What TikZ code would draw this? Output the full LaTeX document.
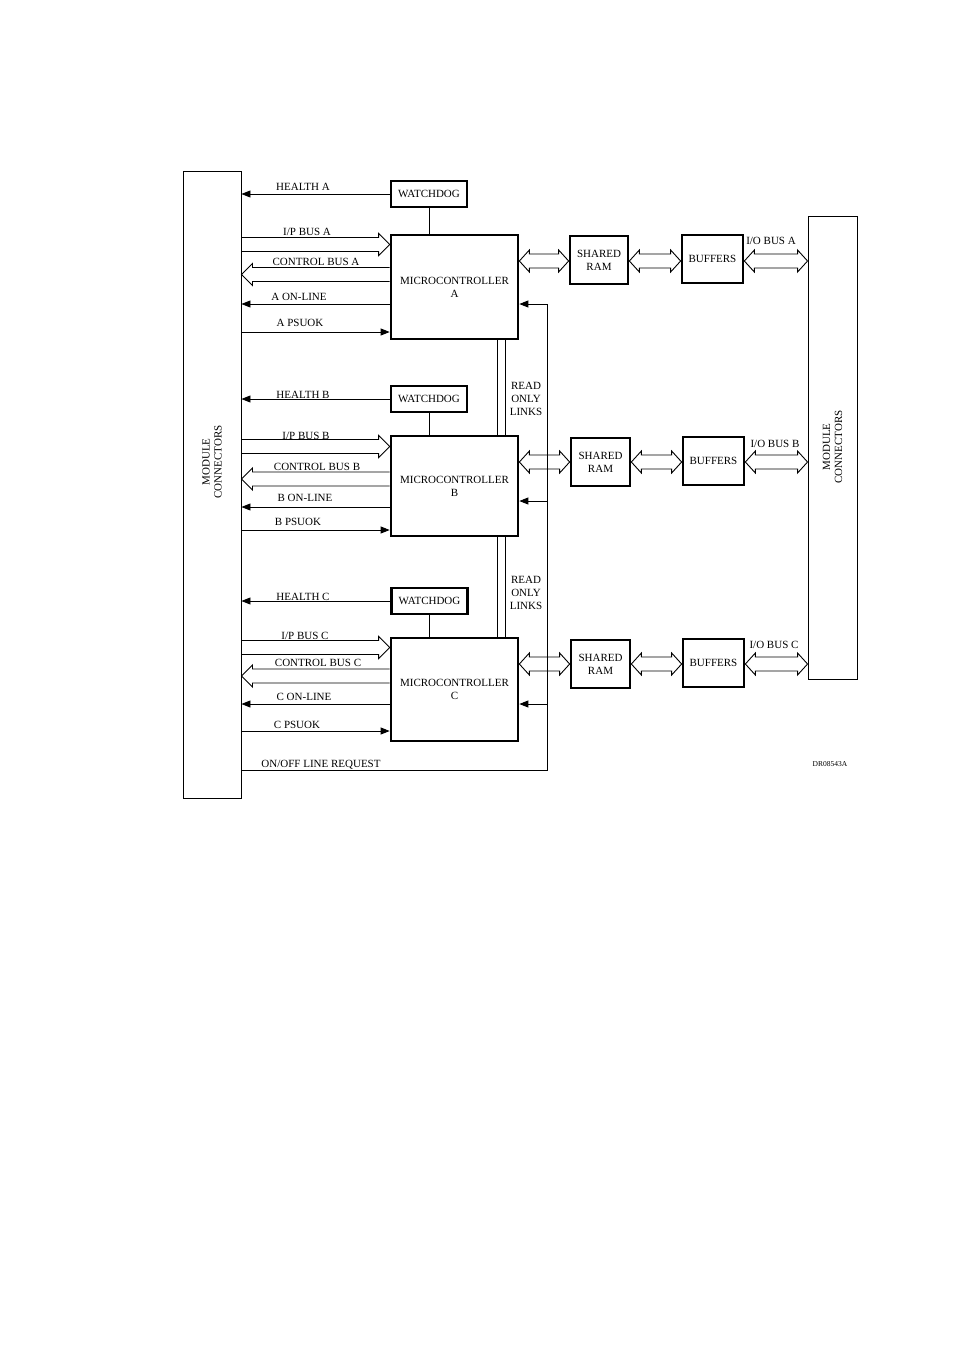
\documentclass[tikz,border=0pt]{standalone}
\usepackage{fontspec}
\setmainfont{Liberation Serif}
\usetikzlibrary{arrows.meta,calc}
\tikzset{
  blk/.style={draw, line width=2.7pt, inner sep=0pt, align=center, font=\fontsize{11}{13}\selectfont},
  modbox/.style={draw, line width=0.9pt, inner sep=0pt},
  sig/.style={line width=0.9pt},
  sigarr/.style={line width=0.9pt, -{Triangle[length=9pt,width=7pt]}},
  lbl/.style={font=\fontsize{11}{12}\selectfont, inner sep=0pt},
  hol/.style={line width=0.9pt, line join=miter},
}
% hollow arrow pointing right: from x of #1 to x of #2, centred on y of #2
\newcommand{\holR}[2]{\draw[hol] let \p1=(#1), \p2=(#2) in
  (\x1,\y2+7pt) -- (\x2-11pt,\y2+7pt) -- (\x2-11pt,\y2+11pt) -- (\x2,\y2) -- (\x2-11pt,\y2-11pt) -- (\x2-11pt,\y2-7pt) -- (\x1,\y2-7pt);}
% hollow arrow pointing left: head at #1
\newcommand{\holL}[2]{\draw[hol] let \p1=(#1), \p2=(#2) in
  (\x2,\y1+7pt) -- (\x1+11pt,\y1+7pt) -- (\x1+11pt,\y1+11pt) -- (\x1,\y1) -- (\x1+11pt,\y1-11pt) -- (\x1+11pt,\y1-7pt) -- (\x2,\y1-7pt);}
% hollow double-headed arrow between #1 and #2 (y of #1)
\newcommand{\holLR}[2]{\draw[hol] let \p1=(#1), \p2=(#2) in
  (\x1,\y1) -- (\x1+10pt,\y1+11pt) -- (\x1+10pt,\y1+7pt) -- (\x2-10pt,\y1+7pt) -- (\x2-10pt,\y1+11pt) -- (\x2,\y1)
  -- (\x2-10pt,\y1-11pt) -- (\x2-10pt,\y1-7pt) -- (\x1+10pt,\y1-7pt) -- (\x1+10pt,\y1-11pt) -- cycle;}
\begin{document}
\begin{tikzpicture}[x=1pt,y=-1pt]
\useasboundingbox (0,0) rectangle (954,1350);
\fill[white] (0,0) rectangle (954,1350);

% module connectors
\node[modbox, minimum width=58pt, minimum height=627pt] (lm) at (212,484.5) {};
\node[lbl, rotate=90, align=center] (lmt) at (212,462) {MODULE\\CONNECTORS};
\node[modbox, minimum width=49pt, minimum height=463pt] (rm) at (832.5,447.5) {};
\node[lbl, rotate=90, align=center] (rmt) at (832.5,447) {MODULE\\CONNECTORS};

% ---------- channel A ----------
\node[blk, minimum width=76pt, minimum height=26pt] (wdA) at (429,194) {WATCHDOG};
\node[blk, minimum width=127pt, minimum height=104pt] (mcA) at (454.5,287) {MICROCONTROLLER\\A};
\node[blk, minimum width=58pt, minimum height=48pt] (srA) at (599,260) {SHARED\\RAM};
\node[blk, minimum width=61pt, minimum height=48pt] (bfA) at (712.5,259) {BUFFERS};

% ---------- channel B ----------
\node[blk, minimum width=76pt, minimum height=26pt] (wdB) at (429,399) {WATCHDOG};
\node[blk, minimum width=127pt, minimum height=100pt] (mcB) at (454.5,486) {MICROCONTROLLER\\B};
\node[blk, minimum width=59pt, minimum height=48pt] (srB) at (600.5,462) {SHARED\\RAM};
\node[blk, minimum width=61pt, minimum height=48pt] (bfB) at (713.5,461) {BUFFERS};

% ---------- channel C ----------
\node[blk, minimum width=76pt, minimum height=26pt] (wdC) at (429.5,601) {WATCHDOG};
\node[blk, minimum width=127pt, minimum height=103pt] (mcC) at (454.5,689.5) {MICROCONTROLLER\\C};
\node[blk, minimum width=59pt, minimum height=48pt] (srC) at (600.5,664) {SHARED\\RAM};
\node[blk, minimum width=61pt, minimum height=48pt] (bfC) at (713.5,663) {BUFFERS};

% watchdog to micro
\draw[sig] (wdA.south) -- (wdA.south |- mcA.north);
\draw[sig] (wdB.south) -- (wdB.south |- mcB.north);
\draw[sig] (wdC.south) -- (wdC.south |- mcC.north);

% health
\draw[sigarr] (wdA.west) -- (lm.east |- wdA.west);
\draw[sigarr] (wdB.west) -- (lm.east |- wdB.west);
\draw[sigarr] (wdC.west) -- (lm.east |- wdC.west);
\node[lbl] (hA) at (303,187) {HEALTH A};
\node[lbl] (hB) at (303,395) {HEALTH B};
\node[lbl] (hC) at (303,597) {HEALTH C};

% I/P bus (hollow, to micro)
\coordinate (ipA) at (mcA.west |- 0,244.5);
\coordinate (ipB) at (mcB.west |- 0,446.5);
\coordinate (ipC) at (mcC.west |- 0,647.5);
\holR{lm.east}{ipA}
\holR{lm.east}{ipB}
\holR{lm.east}{ipC}
\node[lbl] (ipAl) at (307,232) {I/P BUS A};
\node[lbl] (ipBl) at (306,436) {I/P BUS B};
\node[lbl] (ipCl) at (305,636) {I/P BUS C};

% control bus (hollow, to connectors)
\coordinate (cbA) at (lm.east |- 0,274.5);
\coordinate (cbB) at (lm.east |- 0,479);
\coordinate (cbC) at (lm.east |- 0,676);
\holL{cbA}{mcA.west}
\holL{cbB}{mcB.west}
\holL{cbC}{mcC.west}
\node[lbl] (cbAl) at (316,262) {CONTROL BUS A};
\node[lbl] (cbBl) at (317,467) {CONTROL BUS B};
\node[lbl] (cbCl) at (318,663) {CONTROL BUS C};

% on-line
\draw[sigarr] (mcA.west |- 0,304) -- (lm.east |- 0,304);
\draw[sigarr] (mcB.west |- 0,507) -- (lm.east |- 0,507);
\draw[sigarr] (mcC.west |- 0,704) -- (lm.east |- 0,704);
\node[lbl] (olA) at (299,297) {A ON-LINE};
\node[lbl] (olB) at (305,498) {B ON-LINE};
\node[lbl] (olC) at (304,697) {C ON-LINE};

% psuok
\draw[sigarr] (lm.east |- 0,332) -- (mcA.west |- 0,332);
\draw[sigarr] (lm.east |- 0,530) -- (mcB.west |- 0,530);
\draw[sigarr] (lm.east |- 0,731) -- (mcC.west |- 0,731);
\node[lbl] (psA) at (300,323) {A PSUOK};
\node[lbl] (psB) at (298,522) {B PSUOK};
\node[lbl] (psC) at (297,725) {C PSUOK};

% on/off line request loop
\coordinate (reqL) at (lm.east |- 0,770);
\coordinate (reqR) at (547,770);
\coordinate (reqT) at (547,304);
\draw[sig] (reqL) -- (reqR) -- (reqT);
\draw[sigarr] (reqT) -- (mcA.east |- reqT);
\draw[sigarr] (reqR |- 0,501) -- (mcB.east |- 0,501);
\draw[sigarr] (reqR |- 0,704) -- (mcC.east |- 0,704);
\node[lbl] (reql) at (321,765) {ON/OFF LINE REQUEST};

% read only links
\draw[sig] (mcA.south -| 497,0) -- (mcB.north -| 497,0);
\draw[sig] (mcA.south -| 505,0) -- (mcB.north -| 505,0);
\draw[sig] (mcB.south -| 497,0) -- (mcC.north -| 497,0);
\draw[sig] (mcB.south -| 505,0) -- (mcC.north -| 505,0);
\node[lbl, align=center, font=\fontsize{11}{13}\selectfont] (rol1) at (526,399) {READ\\ONLY\\LINKS};
\node[lbl, align=center, font=\fontsize{11}{13}\selectfont] (rol2) at (526,593) {READ\\ONLY\\LINKS};

% micro <-> shared RAM <-> buffers <-> connectors
\holLR{mcA.east |- 0,261}{srA.west}
\holLR{srA.east |- 0,261}{bfA.west}
\holLR{bfA.east |- 0,261}{rm.west}
\holLR{mcB.east |- 0,462}{srB.west}
\holLR{srB.east |- 0,462}{bfB.west}
\holLR{bfB.east |- 0,462}{rm.west}
\holLR{mcC.east |- 0,664}{srC.west}
\holLR{srC.east |- 0,664}{bfC.west}
\holLR{bfC.east |- 0,664}{rm.west}
\node[lbl] (ioA) at (771,241) {I/O BUS A};
\node[lbl] (ioB) at (775,444) {I/O BUS B};
\node[lbl] (ioC) at (774,645) {I/O BUS C};

\node[lbl, font=\fontsize{7.5}{8}\selectfont] (dr) at (830,764) {DR08543A};
\end{tikzpicture}
\end{document}
